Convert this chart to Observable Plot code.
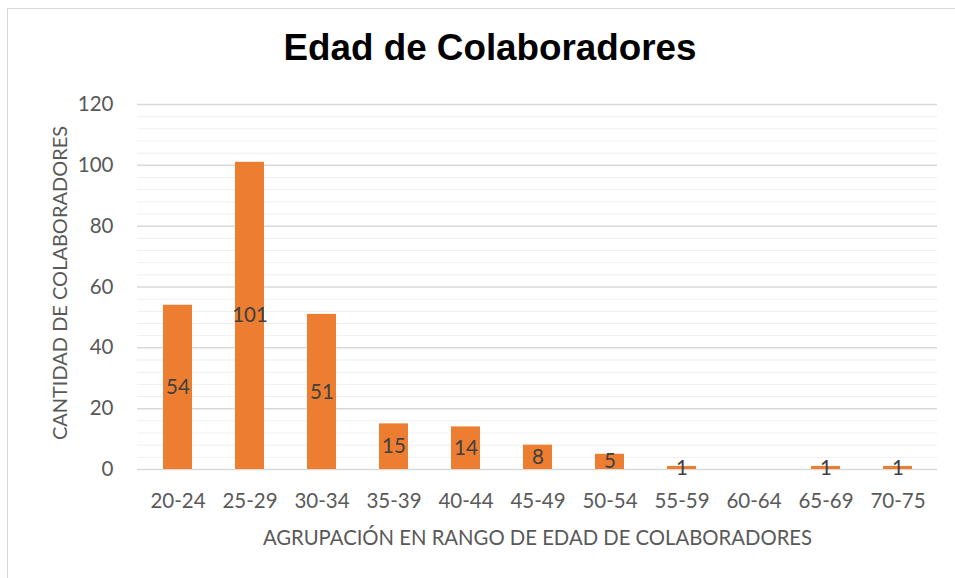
<!DOCTYPE html>
<html>
<head>
<meta charset="utf-8">
<script src="https://cdn.jsdelivr.net/npm/d3@7"></script>
<script src="https://cdn.jsdelivr.net/npm/@observablehq/plot@0.6"></script>
<style>
  html, body { margin: 0; padding: 0; background: #fff; overflow: hidden; }
  #wrap { position: relative; width: 955px; height: 578px; }
  #frame { position: absolute; left: 7px; top: 8px; width: 970px; height: 590px; border: 1px solid #d9d9d9; pointer-events: none; }
  svg { font-family: Lato, "Open Sans", sans-serif; }
</style>
</head>
<body>
<div id="wrap"><div id="frame"></div></div>
<script>
const categories = ["20-24","25-29","30-34","35-39","40-44","45-49","50-54","55-59","60-64","65-69","70-75"];
const values = [54, 101, 51, 15, 14, 8, 5, 1, null, 1, 1];
const majorTicks = [0, 20, 40, 60, 80, 100, 120];
const minorTicks = d3.range(0, 121, 4).filter(v => v % 20 !== 0);
const title = "Edad de Colaboradores";
const xTitle = "AGRUPACIÓN EN RANGO DE EDAD DE COLABORADORES";
const yTitle = "CANTIDAD DE COLABORADORES";

const data = categories.map((c, i) => ({cat: c, v: values[i]}));
const withValue = data.filter(d => d.v != null);

const chart = Plot.plot({
  width: 955,
  height: 578,
  marginLeft: 137,
  marginRight: 18,
  marginTop: 104,
  marginBottom: 109,
  style: {fontFamily: "Lato, sans-serif", background: "transparent", overflow: "visible"},
  x: {domain: categories, paddingInner: 0.6, paddingOuter: 0.3, label: null},
  y: {domain: [0, 120], label: null},
  marks: [
    Plot.ruleY(minorTicks, {stroke: "#efefef", strokeWidth: 1}),
    Plot.ruleY(majorTicks, {stroke: "#d9d9d9", strokeWidth: 1.5}),
    Plot.barY(withValue, {x: "cat", y: "v", fill: "#ED7D31"}),
    Plot.text(withValue, {x: "cat", y: d => d.v / 2, text: d => String(d.v), fill: "#404040", fontSize: 20.5, lineAnchor: "middle"}),
    Plot.axisY({ticks: majorTicks, tickSize: 0, tickPadding: 24, fontSize: 20.5, color: "#595959", label: null}),
    Plot.axisX({tickSize: 0, tickPadding: 24, fontSize: 20.5, color: "#595959", label: null}),
    Plot.text([xTitle], {frameAnchor: "bottom", dy: 69, lineAnchor: "middle", fontSize: 20.3, fill: "#595959"}),
    Plot.text([yTitle], {frameAnchor: "left", dx: -77, dy: -4, rotate: -90, textAnchor: "middle", lineAnchor: "middle", fontSize: 20, fill: "#595959"}),
    Plot.text([title], {frameAnchor: "top", dx: -47.5, dy: -45, lineAnchor: "bottom", fontSize: 36.8, fontWeight: "bold", fill: "#000", fontFamily: "Liberation Sans, Arial, sans-serif"})
  ]
});
document.getElementById("wrap").prepend(chart);
</script>
</body>
</html>
